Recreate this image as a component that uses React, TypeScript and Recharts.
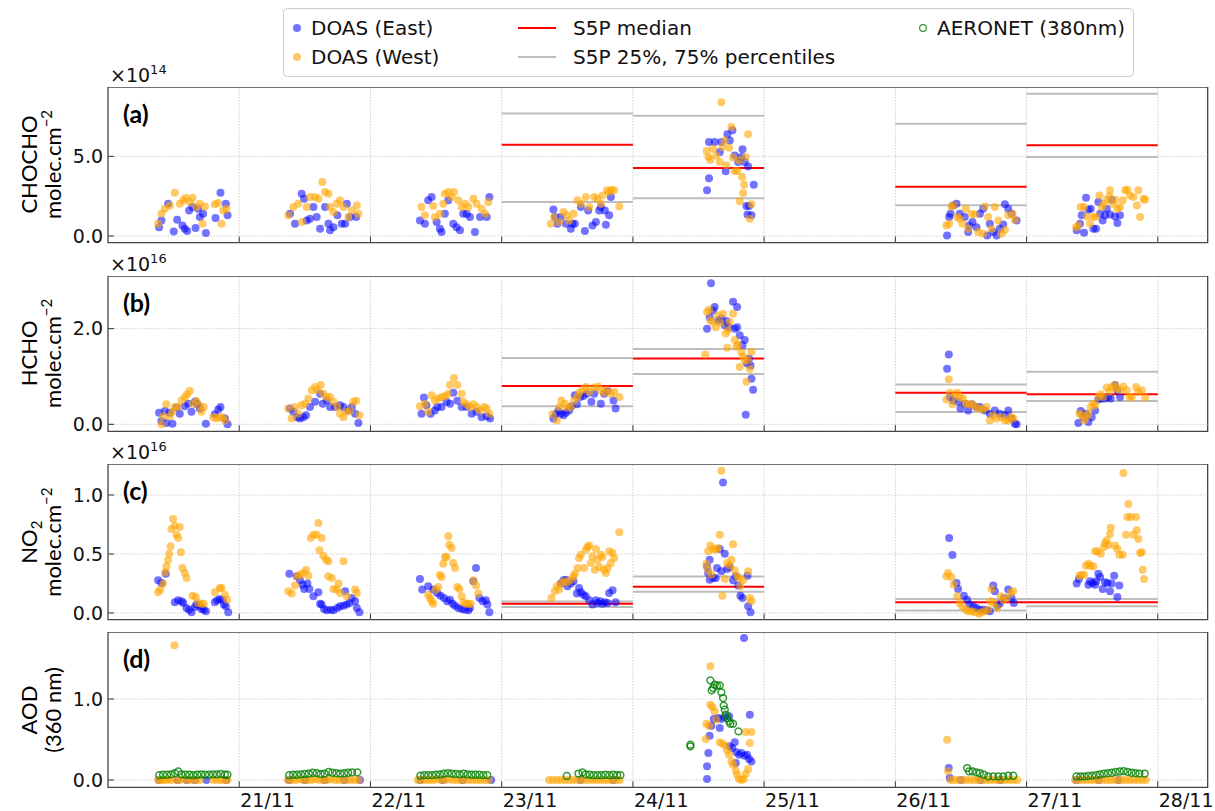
import { ComposedChart, Scatter, XAxis, YAxis, ReferenceLine, ReferenceArea } from 'recharts';

type Pt = [number, number];

const dayTicks = [21, 22, 23, 24, 25, 26, 27, 28];
const dayLabels = ['21/11', '22/11', '23/11', '24/11', '25/11', '26/11', '27/11', '28/11'];
const xDomain: [number, number] = [20, 28.38];

// S5P daily statistics (23/11, 24/11, 26/11, 27/11)
const s5pDays = [23, 24, 26, 27];
const chochoMedian = [5.73, 4.27, 3.1, 5.69];
const chochoP25 = [2.13, 2.37, 1.93, 4.96];
const chochoP75 = [7.68, 7.55, 7.05, 8.93];
const hchoMedian = [0.8, 1.373, 0.66, 0.627];
const hchoP25 = [0.376, 1.05, 0.257, 0.487];
const hchoP75 = [1.386, 1.574, 0.83, 1.1];
const no2Median = [0.079, 0.223, 0.09, 0.09];
const no2P25 = [0.051, 0.18, 0.02, 0.056];
const no2P75 = [0.098, 0.31, 0.119, 0.119];

// CHOCHO (x1e14)
const chochoEast: Pt[] = [
  [20.389, 0.56], [20.407, 0.98], [20.458, 2.03], [20.501, 0.29], [20.527, 1.03], [20.567, 0.67], [20.585, 0.46], [20.603, 0.31], [20.618, 1.61], [20.644, 1.82], [20.667, 0.5], [20.687, 1.72], [20.7, 1.19], [20.725, 1.4], [20.746, 0.19], [20.819, 1.13], [20.857, 2.72], [20.898, 2.03], [20.911, 1.3],
  [21.387, 1.4], [21.425, 0.77], [21.476, 2.66], [21.494, 2.34], [21.514, 0.98], [21.539, 1.09], [21.565, 1.82], [21.59, 1.19], [21.616, 0.46], [21.654, 1.82], [21.68, 0.77], [21.692, 0.36], [21.718, 0.56], [21.748, 1.3], [21.781, 0.77], [21.807, 0.77], [21.82, 2.03], [21.845, 1.19], [21.891, 1.19],
  [22.377, 0.98], [22.415, 0.77], [22.44, 2.24], [22.466, 2.45], [22.504, 0.88], [22.529, 0.46], [22.542, 0.25], [22.567, 1.4], [22.593, 2.24], [22.631, 0.77], [22.656, 0.56], [22.682, 0.36], [22.707, 1.4], [22.733, 1.4], [22.758, 1.19], [22.796, 0.25], [22.835, 1.19], [22.886, 1.19], [22.906, 2.45],
  [23.394, 1.67], [23.407, 1.19], [23.425, 0.77], [23.45, 1.19], [23.489, 0.77], [23.527, 0.46], [23.539, 0.77], [23.557, 0.77], [23.603, 1.82], [23.634, 0.31], [23.659, 1.61], [23.692, 0.67], [23.718, 0.88], [23.743, 1.61], [23.756, 1.82], [23.786, 1.61], [23.794, 0.71], [23.819, 1.3], [23.832, 2.45],
  [24.565, 2.87], [24.58, 3.62], [24.58, 5.9], [24.623, 5.9], [24.662, 5.27], [24.674, 5.9], [24.72, 6.38], [24.738, 6.0], [24.758, 6.63], [24.707, 4.06], [24.776, 5.06], [24.802, 4.64], [24.827, 4.96], [24.835, 5.44], [24.852, 4.64], [24.878, 4.37], [24.865, 1.88], [24.885, 1.88], [24.873, 1.36], [24.903, 1.3], [24.921, 3.22],
  [26.394, 0.04], [26.41, 1.19], [26.42, 1.4], [26.44, 1.92], [26.466, 2.03], [26.491, 1.4], [26.529, 1.19], [26.555, 0.25], [26.562, 0.67], [26.588, 0.88], [26.618, 0.56], [26.644, 1.4], [26.669, 1.72], [26.7, 0.04], [26.72, 0.77], [26.746, 0.25], [26.771, 0.04], [26.796, 0.46], [26.822, 0.73], [26.835, 1.99], [26.86, 1.72], [26.885, 1.4], [26.924, 0.98],
  [27.382, 0.36], [27.407, 0.77], [27.42, 1.3], [27.438, 0.21], [27.453, 2.41], [27.471, 1.65], [27.489, 1.72], [27.509, 0.46], [27.529, 0.46], [27.547, 2.13], [27.56, 1.4], [27.58, 0.98], [27.598, 1.3], [27.611, 1.72], [27.636, 1.36], [27.649, 2.28], [27.674, 1.23], [27.692, 0.82], [27.712, 1.3],
];
const chochoWest: Pt[] = [
  [20.382, 0.77], [20.407, 1.4], [20.433, 1.72], [20.471, 1.92], [20.509, 2.72], [20.547, 2.03], [20.573, 2.24], [20.593, 2.41], [20.623, 2.13], [20.644, 2.41], [20.674, 1.82], [20.7, 2.03], [20.72, 0.77], [20.738, 1.86], [20.814, 1.99], [20.84, 2.07], [20.865, 0.77], [20.878, 1.61], [20.903, 1.72],
  [21.374, 1.3], [21.412, 1.82], [21.45, 2.03], [21.476, 0.88], [21.514, 1.82], [21.539, 2.45], [21.578, 2.45], [21.603, 2.34], [21.634, 3.39], [21.654, 2.76], [21.68, 2.66], [21.692, 1.82], [21.718, 1.51], [21.743, 2.03], [21.768, 2.24], [21.794, 1.82], [21.832, 1.19], [21.858, 1.61], [21.896, 1.92], [21.908, 1.4],
  [22.389, 1.82], [22.415, 1.3], [22.478, 1.88], [22.491, 1.19], [22.529, 1.4], [22.555, 2.03], [22.567, 2.66], [22.593, 2.76], [22.618, 2.45], [22.636, 2.76], [22.669, 2.24], [22.695, 1.82], [22.72, 2.03], [22.746, 1.82], [22.784, 2.34], [22.809, 2.03], [22.847, 1.72], [22.873, 1.4], [22.898, 2.13],
  [23.374, 0.77], [23.4, 1.19], [23.438, 0.88], [23.471, 1.51], [23.496, 1.3], [23.514, 0.98], [23.547, 1.4], [23.578, 2.24], [23.603, 2.03], [23.641, 2.45], [23.667, 1.82], [23.705, 2.45], [23.73, 2.34], [23.756, 2.03], [23.768, 2.55], [23.802, 2.87], [23.819, 2.76], [23.837, 2.91], [23.857, 2.87], [23.896, 1.86],
  [24.674, 8.39], [24.562, 5.33], [24.575, 4.96], [24.59, 4.79], [24.61, 5.48], [24.636, 5.06], [24.662, 4.64], [24.682, 5.59], [24.7, 6.0], [24.712, 4.44], [24.733, 5.54], [24.751, 6.84], [24.763, 4.92], [24.776, 4.08], [24.794, 4.08], [24.809, 4.75], [24.832, 3.7], [24.847, 3.22], [24.84, 2.7], [24.86, 4.96], [24.878, 6.38], [24.814, 2.18], [24.891, 1.09], [24.903, 1.99],
  [26.389, 0.67], [26.41, 0.77], [26.427, 1.86], [26.445, 1.92], [26.47, 1.19], [26.491, 1.09], [26.511, 0.77], [26.537, 1.72], [26.555, 0.46], [26.58, 1.4], [26.606, 1.36], [26.631, 0.25], [26.669, 0.15], [26.682, 1.86], [26.707, 1.19], [26.733, 0.46], [26.758, 1.82], [26.784, 0.98], [26.809, 0.15], [26.835, 0.4], [26.86, 1.3], [26.893, 1.4], [26.911, 1.03],
  [27.377, 0.56], [27.394, 0.67], [27.412, 1.82], [27.438, 1.82], [27.458, 1.23], [27.483, 0.77], [27.509, 1.19], [27.529, 1.23], [27.555, 2.55], [27.573, 1.82], [27.59, 2.03], [27.611, 2.28], [27.631, 2.49], [27.636, 2.87], [27.656, 2.03], [27.674, 2.28], [27.692, 1.72], [27.712, 1.82], [27.733, 2.24], [27.751, 2.87], [27.768, 2.91], [27.789, 2.55], [27.814, 2.45], [27.84, 1.92], [27.852, 2.87], [27.865, 1.19], [27.891, 2.34], [27.903, 2.28],
];

// HCHO (x1e16)
const hchoEast: Pt[] = [
  [20.389, 0.24], [20.407, 0.07], [20.433, 0.28], [20.445, 0.03], [20.471, 0.24], [20.491, 0.01], [20.522, 0.35], [20.547, 0.22], [20.585, 0.38], [20.611, 0.43], [20.636, 0.26], [20.662, 0.47], [20.679, 0.42], [20.7, 0.33], [20.746, 0.01], [20.814, 0.21], [20.84, 0.31], [20.857, 0.36], [20.891, 0.12], [20.911, 0.0],
  [21.387, 0.33], [21.412, 0.26], [21.443, 0.15], [21.463, 0.12], [21.489, 0.15], [21.509, 0.19], [21.539, 0.36], [21.578, 0.47], [21.616, 0.64], [21.636, 0.43], [21.667, 0.5], [21.692, 0.36], [21.73, 0.36], [21.768, 0.4], [21.794, 0.36], [21.832, 0.29], [21.858, 0.36], [21.883, 0.22], [21.908, 0.03],
  [22.389, 0.22], [22.407, 0.56], [22.427, 0.4], [22.458, 0.22], [22.491, 0.29], [22.509, 0.36], [22.542, 0.36], [22.58, 0.47], [22.606, 0.43], [22.631, 0.66], [22.662, 0.49], [22.695, 0.36], [22.733, 0.36], [22.771, 0.22], [22.809, 0.26], [22.847, 0.15], [22.886, 0.17], [22.911, 0.12],
  [23.394, 0.12], [23.412, 0.21], [23.43, 0.28], [23.45, 0.22], [23.471, 0.19], [23.489, 0.24], [23.514, 0.29], [23.532, 0.38], [23.557, 0.61], [23.573, 0.42], [23.598, 0.57], [23.623, 0.59], [23.649, 0.64], [23.684, 0.47], [23.705, 0.64], [23.756, 0.43], [23.781, 0.64], [23.807, 0.7], [23.852, 0.5], [23.868, 0.33],
  [24.595, 2.95], [24.565, 2.0], [24.585, 2.24], [24.611, 2.38], [24.623, 2.45], [24.649, 2.17], [24.674, 2.21], [24.7, 2.07], [24.712, 2.16], [24.733, 2.03], [24.763, 2.56], [24.776, 2.0], [24.794, 2.45], [24.794, 2.03], [24.814, 1.86], [24.835, 1.65], [24.852, 1.76], [24.87, 1.27], [24.885, 1.37], [24.896, 1.23], [24.903, 0.95], [24.916, 0.72], [24.86, 0.2],
  [26.407, 1.46], [26.394, 1.16], [26.415, 0.57], [26.44, 0.5], [26.478, 0.47], [26.496, 0.33], [26.529, 0.43], [26.555, 0.29], [26.58, 0.42], [26.618, 0.36], [26.644, 0.36], [26.682, 0.29], [26.72, 0.22], [26.758, 0.29], [26.796, 0.22], [26.835, 0.19], [26.86, 0.29], [26.885, 0.12], [26.911, 0.01], [26.924, 0.0],
  [27.394, 0.03], [27.412, 0.28], [27.433, 0.15], [27.453, 0.22], [27.471, 0.05], [27.496, 0.15], [27.522, 0.29], [27.547, 0.52], [27.573, 0.54], [27.598, 0.54], [27.623, 0.57], [27.641, 0.54], [27.674, 0.82], [27.692, 0.71], [27.712, 0.57],
];
const hchoWest: Pt[] = [
  [20.407, 0.0], [20.42, 0.17], [20.445, 0.42], [20.471, 0.17], [20.491, 0.26], [20.509, 0.36], [20.534, 0.36], [20.56, 0.5], [20.585, 0.57], [20.603, 0.63], [20.623, 0.7], [20.649, 0.43], [20.674, 0.49], [20.695, 0.4], [20.712, 0.26], [20.73, 0.36], [20.801, 0.15], [20.827, 0.12], [20.852, 0.15], [20.873, 0.15], [20.891, 0.08],
  [21.374, 0.33], [21.399, 0.12], [21.425, 0.36], [21.45, 0.22], [21.476, 0.4], [21.501, 0.43], [21.527, 0.54], [21.552, 0.71], [21.578, 0.78], [21.595, 0.71], [21.621, 0.82], [21.641, 0.64], [21.667, 0.57], [21.692, 0.57], [21.718, 0.47], [21.748, 0.36], [21.768, 0.22], [21.794, 0.15], [21.819, 0.26], [21.845, 0.29], [21.87, 0.47], [21.891, 0.49], [21.916, 0.19],
  [22.377, 0.38], [22.415, 0.43], [22.44, 0.26], [22.466, 0.61], [22.491, 0.5], [22.517, 0.54], [22.542, 0.57], [22.567, 0.59], [22.593, 0.64], [22.606, 0.82], [22.636, 0.97], [22.662, 0.82], [22.695, 0.64], [22.707, 0.47], [22.733, 0.42], [22.758, 0.36], [22.784, 0.42], [22.809, 0.36], [22.835, 0.29], [22.865, 0.36], [22.886, 0.33], [22.906, 0.22],
  [23.387, 0.21], [23.42, 0.08], [23.438, 0.36], [23.455, 0.5], [23.481, 0.43], [23.501, 0.35], [23.527, 0.36], [23.552, 0.5], [23.578, 0.57], [23.59, 0.66], [23.616, 0.72], [23.641, 0.78], [23.667, 0.68], [23.7, 0.77], [23.735, 0.79], [23.756, 0.71], [23.781, 0.66], [23.802, 0.72], [23.832, 0.64], [23.858, 0.68], [23.896, 0.57],
  [24.552, 1.46], [24.565, 2.35], [24.58, 2.4], [24.59, 2.17], [24.611, 2.14], [24.631, 2.03], [24.649, 2.28], [24.667, 2.12], [24.687, 2.31], [24.707, 1.9], [24.725, 1.97], [24.738, 2.14], [24.763, 2.31], [24.776, 1.76], [24.789, 1.62], [24.802, 1.67], [24.814, 1.2], [24.827, 1.51], [24.84, 1.41], [24.852, 1.34], [24.865, 0.89], [24.878, 1.34], [24.891, 1.16], [24.903, 1.51], [24.718, 1.6],
  [26.407, 0.94], [26.389, 0.52], [26.415, 0.66], [26.435, 0.42], [26.453, 0.57], [26.471, 0.66], [26.491, 0.57], [26.517, 0.54], [26.537, 0.43], [26.562, 0.42], [26.588, 0.42], [26.613, 0.36], [26.639, 0.33], [26.669, 0.31], [26.695, 0.36], [26.72, 0.08], [26.746, 0.19], [26.771, 0.12], [26.809, 0.15], [26.835, 0.08], [26.86, 0.08], [26.885, 0.15], [26.898, 0.12],
  [27.402, 0.22], [27.42, 0.19], [27.438, 0.08], [27.458, 0.15], [27.471, 0.22], [27.489, 0.36], [27.509, 0.43], [27.522, 0.4], [27.547, 0.57], [27.565, 0.63], [27.585, 0.57], [27.611, 0.77], [27.631, 0.68], [27.649, 0.78], [27.674, 0.82], [27.687, 0.75], [27.712, 0.71], [27.738, 0.79], [27.763, 0.71], [27.784, 0.57], [27.802, 0.57], [27.835, 0.78], [27.852, 0.68], [27.878, 0.71], [27.903, 0.56],
];

// NO2 (x1e16)
const no2East: Pt[] = [
  [20.382, 0.277], [20.407, 0.254], [20.44, 0.333], [20.509, 0.09], [20.534, 0.107], [20.56, 0.099], [20.573, 0.085], [20.598, 0.042], [20.618, 0.028], [20.636, 0.006], [20.662, 0.051], [20.674, 0.071], [20.7, 0.056], [20.712, 0.034], [20.73, 0.028], [20.746, 0.014], [20.814, 0.09], [20.832, 0.107], [20.852, 0.119], [20.873, 0.113], [20.883, 0.071], [20.898, 0.056], [20.916, 0.006],
  [21.382, 0.333], [21.438, 0.311], [21.463, 0.277], [21.483, 0.24], [21.494, 0.203], [21.519, 0.249], [21.534, 0.203], [21.565, 0.141], [21.603, 0.175], [21.616, 0.079], [21.628, 0.071], [21.646, 0.034], [21.667, 0.023], [21.697, 0.028], [21.718, 0.023], [21.748, 0.042], [21.768, 0.056], [21.794, 0.062], [21.807, 0.184], [21.819, 0.071], [21.84, 0.085], [21.858, 0.127], [21.883, 0.099], [21.896, 0.042], [21.916, 0.006],
  [22.377, 0.288], [22.394, 0.198], [22.44, 0.226], [22.478, 0.198], [22.509, 0.169], [22.534, 0.147], [22.56, 0.127], [22.585, 0.099], [22.606, 0.113], [22.626, 0.079], [22.644, 0.062], [22.669, 0.042], [22.695, 0.034], [22.72, 0.028], [22.746, 0.023], [22.758, 0.042], [22.784, 0.268], [22.804, 0.381], [22.83, 0.127], [22.855, 0.099], [22.88, 0.107], [22.891, 0.071], [22.906, 0.006],
  [23.45, 0.249], [23.471, 0.277], [23.489, 0.282], [23.501, 0.226], [23.527, 0.249], [23.547, 0.268], [23.573, 0.164], [23.59, 0.212], [23.603, 0.175], [23.623, 0.155], [23.641, 0.141], [23.667, 0.107], [23.692, 0.071], [23.718, 0.107], [23.73, 0.085], [23.751, 0.099], [23.768, 0.079], [23.786, 0.09], [23.807, 0.085], [23.819, 0.169], [23.845, 0.192], [23.868, 0.09],
  [24.687, 1.107], [24.662, 0.542], [24.7, 0.503], [24.585, 0.452], [24.565, 0.395], [24.573, 0.339], [24.585, 0.282], [24.611, 0.297], [24.631, 0.297], [24.641, 0.381], [24.674, 0.353], [24.718, 0.373], [24.738, 0.39], [24.763, 0.277], [24.784, 0.311], [24.802, 0.232], [24.819, 0.147], [24.835, 0.127], [24.873, 0.316], [24.878, 0.056], [24.896, 0.006],
  [26.41, 0.636], [26.435, 0.492], [26.466, 0.254], [26.478, 0.203], [26.522, 0.147], [26.547, 0.113], [26.567, 0.071], [26.593, 0.056], [26.618, 0.042], [26.644, 0.028], [26.669, 0.028], [26.695, 0.023], [26.72, 0.014], [26.746, 0.232], [26.758, 0.184], [26.776, 0.062], [26.796, 0.079], [26.827, 0.127], [26.86, 0.198], [26.885, 0.127], [26.903, 0.085],
  [27.382, 0.249], [27.399, 0.288], [27.471, 0.24], [27.483, 0.268], [27.504, 0.254], [27.522, 0.24], [27.529, 0.268], [27.547, 0.333], [27.56, 0.305], [27.58, 0.203], [27.598, 0.26], [27.616, 0.254], [27.636, 0.184], [27.649, 0.249], [27.667, 0.316], [27.692, 0.136], [27.707, 0.232],
];
const no2West: Pt[] = [
  [20.382, 0.175], [20.399, 0.2], [20.42, 0.25], [20.435, 0.345], [20.445, 0.395], [20.458, 0.446], [20.466, 0.503], [20.476, 0.565], [20.483, 0.712], [20.496, 0.797], [20.509, 0.74], [20.522, 0.664], [20.534, 0.636], [20.547, 0.729], [20.555, 0.514], [20.567, 0.381], [20.585, 0.339], [20.598, 0.297], [20.644, 0.147], [20.669, 0.136], [20.687, 0.085], [20.712, 0.079], [20.73, 0.079], [20.814, 0.175], [20.852, 0.212], [20.865, 0.212], [20.891, 0.155], [20.908, 0.113],
  [21.374, 0.184], [21.399, 0.164], [21.425, 0.232], [21.443, 0.311], [21.463, 0.325], [21.489, 0.339], [21.509, 0.367], [21.527, 0.316], [21.545, 0.636], [21.565, 0.664], [21.59, 0.664], [21.603, 0.763], [21.611, 0.531], [21.628, 0.636], [21.641, 0.486], [21.662, 0.452], [21.679, 0.438], [21.679, 0.311], [21.705, 0.297], [21.718, 0.203], [21.743, 0.198], [21.756, 0.249], [21.768, 0.169], [21.794, 0.438], [21.819, 0.141], [21.883, 0.198], [21.896, 0.169],
  [22.44, 0.155], [22.453, 0.127], [22.466, 0.099], [22.478, 0.079], [22.499, 0.198], [22.517, 0.22], [22.529, 0.322], [22.542, 0.305], [22.555, 0.418], [22.567, 0.475], [22.58, 0.475], [22.593, 0.65], [22.601, 0.579], [22.618, 0.551], [22.631, 0.424], [22.644, 0.381], [22.662, 0.22], [22.677, 0.203], [22.695, 0.141], [22.707, 0.09], [22.728, 0.079], [22.746, 0.079], [22.763, 0.079], [22.784, 0.277], [22.804, 0.232], [22.822, 0.164],
  [23.379, 0.127], [23.405, 0.184], [23.42, 0.226], [23.438, 0.198], [23.455, 0.254], [23.476, 0.268], [23.501, 0.26], [23.527, 0.282], [23.547, 0.311], [23.557, 0.333], [23.578, 0.381], [23.59, 0.466], [23.603, 0.494], [23.628, 0.381], [23.641, 0.537], [23.654, 0.559], [23.667, 0.571], [23.679, 0.424], [23.692, 0.48], [23.71, 0.367], [23.718, 0.542], [23.73, 0.452], [23.743, 0.39], [23.756, 0.494], [23.768, 0.475], [23.781, 0.367], [23.794, 0.339], [23.807, 0.381], [23.819, 0.523], [23.832, 0.424], [23.845, 0.508], [23.858, 0.466], [23.896, 0.684],
  [24.674, 1.206], [24.662, 0.664], [24.763, 0.582], [24.56, 0.418], [24.573, 0.523], [24.59, 0.571], [24.611, 0.542], [24.631, 0.537], [24.649, 0.551], [24.573, 0.367], [24.598, 0.325], [24.682, 0.147], [24.7, 0.288], [24.718, 0.424], [24.738, 0.401], [24.751, 0.452], [24.776, 0.362], [24.794, 0.311], [24.809, 0.297], [24.819, 0.226], [24.84, 0.277], [24.878, 0.353], [24.891, 0.127], [24.903, 0.099],
  [26.389, 0.311], [26.402, 0.339], [26.427, 0.305], [26.445, 0.24], [26.471, 0.141], [26.491, 0.085], [26.511, 0.056], [26.537, 0.028], [26.555, 0.014], [26.58, 0.014], [26.606, 0.006], [26.639, -0.006], [26.656, 0.006], [26.682, 0.014], [26.707, 0.028], [26.725, 0.099], [26.733, 0.203], [26.751, 0.085], [26.776, 0.042], [26.802, 0.141], [26.822, 0.113], [26.847, 0.127], [26.878, 0.169], [26.898, 0.184],
  [27.402, 0.316], [27.42, 0.325], [27.438, 0.325], [27.453, 0.401], [27.471, 0.418], [27.489, 0.401], [27.509, 0.395], [27.522, 0.523], [27.54, 0.523], [27.565, 0.503], [27.59, 0.559], [27.598, 0.593], [27.611, 0.616], [27.623, 0.576], [27.636, 0.669], [27.641, 0.723], [27.674, 0.571], [27.692, 0.542], [27.707, 0.494], [27.733, 0.494], [27.738, 1.186], [27.758, 0.664], [27.776, 0.924], [27.768, 0.814], [27.794, 0.814], [27.814, 0.664], [27.835, 0.814], [27.84, 0.701], [27.852, 0.627], [27.865, 0.508], [27.878, 0.514], [27.885, 0.367], [27.896, 0.288],
];

// AOD 360 nm
const aodEast: Pt[] = [
  [20.39, 0.0], [20.53, 0.0], [20.6, 0.0], [20.66, 0.0], [20.75, 0.0], [20.9, 0.0],
  [21.38, 0.0], [21.5, 0.0], [21.65, 0.0], [21.8, 0.0], [21.92, 0.0],
  [22.38, 0.0], [22.55, 0.0], [22.7, 0.0], [22.92, 0.0],
  [23.6, 0.0], [23.85, 0.0],
  [24.847, 1.753], [24.891, 0.807], [24.565, 0.012], [24.565, 0.169], [24.575, 0.333], [24.585, 0.547], [24.598, 0.671], [24.616, 0.753], [24.649, 0.765], [24.662, 0.642], [24.674, 0.753], [24.7, 0.778], [24.733, 0.786], [24.738, 0.416], [24.758, 0.395], [24.776, 0.465], [24.789, 0.342], [24.809, 0.313], [24.827, 0.333], [24.852, 0.3], [24.87, 0.313], [24.885, 0.259], [24.903, 0.23], [24.784, 0.21],
  [26.407, 0.148], [26.415, 0.025], [26.5, 0.0], [26.65, 0.0], [26.8, 0.0],
  [27.38, 0.0], [27.55, 0.0], [27.7, 0.0],
];
const aodWest: Pt[] = [
  [20.382, 0.0], [20.4, 0.0], [20.42, 0.0], [20.44, 0.0], [20.46, 0.01], [20.48, 0.0], [20.506, 1.663], [20.52, 0.0], [20.55, 0.0], [20.58, 0.01], [20.61, 0.0], [20.64, 0.0], [20.67, 0.0], [20.7, 0.0], [20.8, 0.0], [20.83, 0.0], [20.86, 0.0], [20.89, 0.0], [20.91, 0.0],
  [21.37, 0.0], [21.4, 0.0], [21.43, 0.0], [21.46, 0.01], [21.49, 0.0], [21.52, 0.0], [21.55, 0.0], [21.58, 0.01], [21.61, 0.0], [21.64, 0.0], [21.67, 0.0], [21.7, 0.01], [21.73, 0.0], [21.76, 0.0], [21.79, 0.0], [21.82, 0.0], [21.85, 0.0], [21.88, 0.0], [21.91, 0.0],
  [22.36, 0.0], [22.39, 0.0], [22.42, 0.0], [22.45, 0.0], [22.48, 0.0], [22.51, 0.01], [22.54, 0.0], [22.57, 0.0], [22.6, 0.01], [22.63, 0.0], [22.66, 0.0], [22.69, 0.0], [22.72, 0.0], [22.75, 0.0], [22.78, 0.0], [22.81, 0.0], [22.84, 0.0], [22.87, 0.0], [22.9, 0.0],
  [23.36, 0.0], [23.39, 0.0], [23.42, 0.0], [23.45, 0.0], [23.48, 0.0], [23.51, 0.0], [23.54, 0.0], [23.57, 0.0], [23.6, 0.0], [23.63, 0.0], [23.66, 0.0], [23.69, 0.0], [23.72, 0.0], [23.75, 0.0], [23.78, 0.0], [23.81, 0.0], [23.84, 0.0], [23.87, 0.0], [23.9, 0.0],
  [24.59, 1.403], [24.59, 0.93], [24.606, 0.901], [24.623, 0.848], [24.636, 0.745], [24.56, 0.695], [24.58, 0.671], [24.555, 0.506], [24.662, 0.465], [24.682, 0.449], [24.707, 0.424], [24.718, 0.366], [24.733, 0.313], [24.751, 0.23], [24.763, 0.189], [24.784, 0.119], [24.794, 0.066], [24.809, 0.012], [24.827, 0.0], [24.845, 0.012], [24.86, 0.078], [24.878, 0.136], [24.86, 0.593], [24.903, 0.593], [24.891, 0.457],
  [26.394, 0.498], [26.402, 0.107], [26.42, 0.0], [26.45, 0.0], [26.48, 0.0], [26.51, 0.0], [26.54, 0.0], [26.57, 0.0], [26.6, 0.0], [26.63, 0.0], [26.66, 0.0], [26.69, 0.0], [26.72, 0.0], [26.75, 0.0], [26.78, 0.0], [26.81, 0.0], [26.84, 0.0], [26.87, 0.0], [26.9, 0.0], [26.93, 0.0],
  [27.37, 0.0], [27.4, 0.0], [27.43, 0.0], [27.46, 0.0], [27.49, 0.0], [27.52, 0.0], [27.55, 0.0], [27.58, 0.0], [27.61, 0.0], [27.64, 0.0], [27.67, 0.0], [27.7, 0.0], [27.73, 0.0], [27.76, 0.0], [27.79, 0.0], [27.82, 0.0], [27.85, 0.0], [27.88, 0.0], [27.91, 0.0],
];
const aeronet: Pt[] = [
  [20.39, 0.06], [20.42, 0.065], [20.45, 0.065], [20.48, 0.07], [20.51, 0.085], [20.535, 0.105], [20.56, 0.07], [20.59, 0.065], [20.62, 0.065], [20.65, 0.06], [20.68, 0.065], [20.71, 0.07], [20.74, 0.065], [20.77, 0.065], [20.8, 0.07], [20.83, 0.07], [20.86, 0.075], [20.89, 0.065], [20.91, 0.065],
  [21.38, 0.06], [21.41, 0.065], [21.44, 0.065], [21.47, 0.07], [21.5, 0.075], [21.53, 0.08], [21.56, 0.09], [21.59, 0.085], [21.62, 0.075], [21.65, 0.08], [21.68, 0.1], [21.71, 0.09], [21.74, 0.085], [21.77, 0.08], [21.8, 0.085], [21.83, 0.09], [21.86, 0.095], [21.9, 0.095],
  [22.38, 0.055], [22.41, 0.06], [22.44, 0.06], [22.47, 0.06], [22.5, 0.065], [22.53, 0.07], [22.56, 0.08], [22.59, 0.085], [22.62, 0.08], [22.65, 0.075], [22.68, 0.07], [22.71, 0.08], [22.74, 0.07], [22.77, 0.065], [22.8, 0.065], [22.83, 0.065], [22.86, 0.06], [22.89, 0.06],
  [23.496, 0.05], [23.585, 0.08], [23.615, 0.095], [23.64, 0.07], [23.67, 0.065], [23.7, 0.06], [23.73, 0.06], [23.76, 0.06], [23.79, 0.065], [23.82, 0.06], [23.85, 0.065], [23.88, 0.06], [23.905, 0.06],
  [24.438, 0.436], [24.438, 0.416], [24.59, 1.23], [24.6, 1.107], [24.611, 1.136], [24.623, 1.177], [24.641, 1.165], [24.662, 1.169], [24.674, 1.082], [24.687, 1.012], [24.692, 0.918], [24.7, 0.868], [24.707, 0.807], [24.718, 0.765], [24.733, 0.724], [24.743, 0.695], [24.763, 0.695], [24.804, 0.601],
  [26.547, 0.148], [26.562, 0.107], [26.588, 0.107], [26.618, 0.095], [26.644, 0.086], [26.674, 0.066], [26.707, 0.045], [26.746, 0.045], [26.784, 0.045], [26.822, 0.045], [26.86, 0.053], [26.898, 0.053],
  [27.38, 0.045], [27.41, 0.045], [27.44, 0.045], [27.47, 0.05], [27.5, 0.055], [27.53, 0.06], [27.56, 0.07], [27.59, 0.08], [27.62, 0.085], [27.65, 0.09], [27.68, 0.1], [27.71, 0.105], [27.74, 0.11], [27.77, 0.1], [27.8, 0.09], [27.83, 0.085], [27.86, 0.08], [27.9, 0.08],
];

const FONT = '"DejaVu Sans", sans-serif';
const LABEL_FONT = 'Lato, "Noto Sans", sans-serif';
const BLUE = '#0000ff';
const ORANGE = '#ffa500';
const GREEN = '#008000';

interface PanelDef {
  letter: string;
  top: number;
  bottom: number;
  domain: [number, number];
  ticks: number[];
  east: Pt[];
  west: Pt[];
  aeronet?: Pt[];
  median?: number[];
  p25?: number[];
  p75?: number[];
  exponent?: string;
}

const panels: PanelDef[] = [
  { letter: '(a)', top: 86.7, bottom: 242.3, domain: [-0.41, 9.35], ticks: [0, 5], east: chochoEast, west: chochoWest, median: chochoMedian, p25: chochoP25, p75: chochoP75, exponent: '14' },
  { letter: '(b)', top: 275.7, bottom: 431, domain: [-0.146, 3.1], ticks: [0, 2], east: hchoEast, west: hchoWest, median: hchoMedian, p25: hchoP25, p75: hchoP75, exponent: '16' },
  { letter: '(c)', top: 464.3, bottom: 620, domain: [-0.057, 1.263], ticks: [0, 0.5, 1], east: no2East, west: no2West, median: no2Median, p25: no2P25, p75: no2P75, exponent: '16' },
  { letter: '(d)', top: 632.3, bottom: 787.7, domain: [-0.091, 1.827], ticks: [0, 1], east: aodEast, west: aodWest, aeronet: aeronet },
];

const toPts = (a: Pt[]) => a.map(([t, v]) => ({ t, v }));

const XTick = (props: any) => {
  const { x, y, payload, showLabel } = props;
  const i = dayTicks.indexOf(payload.value);
  return (
    <g>
      <line x1={x} x2={x} y1={y} y2={y - 6} stroke="#333" strokeWidth={1} />
      {showLabel && (
        <text x={x + 1} y={y + 20} fontSize={19} fontFamily={FONT} fill="#111">
          {dayLabels[i]}
        </text>
      )}
    </g>
  );
};

const YTick = (props: any) => {
  const { x, y, payload } = props;
  return (
    <g>
      <line x1={x} x2={x + 6} y1={y} y2={y} stroke="#333" strokeWidth={1} />
      <text x={x - 5} y={y} dy="0.36em" textAnchor="end" fontSize={19} fontFamily={FONT} fill="#111">
        {Number(payload.value).toFixed(1)}
      </text>
    </g>
  );
};

const blueDot = (p: any) => <circle cx={p.cx} cy={p.cy} r={4} fill={BLUE} fillOpacity={0.55} />;
const orangeDot = (p: any) => <circle cx={p.cx} cy={p.cy} r={4} fill={ORANGE} fillOpacity={0.6} />;
const greenRing = (p: any) => <circle cx={p.cx} cy={p.cy} r={3.4} fill="none" stroke={GREEN} strokeOpacity={0.8} strokeWidth={1.5} />;

const Panel = ({ p, last }: { p: PanelDef; last: boolean }) => {
  const h = p.bottom - p.top;
  return (
    <div style={{ position: 'absolute', left: 0, top: p.top }}>
      <ComposedChart width={1215} height={h + 30} margin={{ top: 0, right: 7.3, bottom: 0, left: 0 }}>
        <XAxis type="number" dataKey="t" domain={xDomain} ticks={dayTicks} interval={0} allowDataOverflow height={30}
          axisLine={false} tickLine={false} tickSize={0} tickMargin={0} tick={(tp: any) => <XTick {...tp} showLabel={last} />} />
        <YAxis type="number" dataKey="v" domain={p.domain} ticks={p.ticks} interval={0} allowDataOverflow width={108}
          axisLine={false} tickLine={false} tickSize={0} tickMargin={0} tick={(tp: any) => <YTick {...tp} />} />
        {dayTicks.map((d) => (
          <ReferenceLine key={'gx' + d} x={d} stroke="#c4c4c4" strokeWidth={0.8} strokeDasharray="1.5 1.5" />
        ))}
        {p.ticks.map((v) => (
          <ReferenceLine key={'gy' + v} y={v} stroke="#c4c4c4" strokeWidth={0.8} strokeDasharray="1.5 1.5" />
        ))}
        {p.p25 && s5pDays.map((d, i) => (
          <ReferenceLine key={'p25' + d} segment={[{ x: d, y: p.p25![i] }, { x: d + 1, y: p.p25![i] }]} stroke="#bdbdbd" strokeWidth={2} />
        ))}
        {p.p75 && s5pDays.map((d, i) => (
          <ReferenceLine key={'p75' + d} segment={[{ x: d, y: p.p75![i] }, { x: d + 1, y: p.p75![i] }]} stroke="#bdbdbd" strokeWidth={2} />
        ))}
        {p.median && s5pDays.map((d, i) => (
          <ReferenceLine key={'med' + d} segment={[{ x: d, y: p.median![i] }, { x: d + 1, y: p.median![i] }]} stroke="#ff0000" strokeWidth={2} />
        ))}
        <Scatter data={toPts(p.east)} shape={blueDot} isAnimationActive={false} />
        <Scatter data={toPts(p.west)} shape={orangeDot} isAnimationActive={false} />
        {p.aeronet && <Scatter data={toPts(p.aeronet)} shape={greenRing} isAnimationActive={false} />}
        <ReferenceArea x1={xDomain[0]} x2={xDomain[1]} y1={p.domain[0]} y2={p.domain[1]} fill="none" fillOpacity={0} stroke="#444" strokeWidth={1.3} />
      </ComposedChart>
    </div>
  );
};

const Overlay = () => {
  const sup = <tspan dy={-9} fontSize={15}>−2</tspan>;
  const yLabels = [
    { c: (panels[0].top + panels[0].bottom) / 2, l1: <>CHOCHO</>, l2: <>molec.cm{sup}</> },
    { c: (panels[1].top + panels[1].bottom) / 2, l1: <>HCHO</>, l2: <>molec.cm{sup}</> },
    { c: (panels[2].top + panels[2].bottom) / 2, l1: <>NO<tspan dy={5} fontSize={15}>2</tspan></>, l2: <>molec.cm{sup}</> },
    { c: (panels[3].top + panels[3].bottom) / 2, l1: <>AOD</>, l2: <>(360 nm)</> },
  ];
  const legendText = { fontSize: 20, fontFamily: FONT, fill: '#111' };
  return (
    <svg width={1215} height={811} style={{ position: 'absolute', left: 0, top: 0, pointerEvents: 'none' }}>
      {/* legend */}
      <rect x={283.5} y={8.5} width={850} height={68} rx={4} fill="#fff" fillOpacity={0.85} stroke="#cccccc" strokeWidth={1} />
      <circle cx={297} cy={28} r={4} fill={BLUE} fillOpacity={0.55} />
      <text x={311} y={28} dy="0.36em" {...legendText}>DOAS (East)</text>
      <circle cx={297} cy={57} r={4} fill={ORANGE} fillOpacity={0.6} />
      <text x={311} y={57} dy="0.36em" {...legendText}>DOAS (West)</text>
      <line x1={518} x2={556} y1={28} y2={28} stroke="#ff0000" strokeWidth={2} />
      <text x={573} y={28} dy="0.36em" {...legendText}>S5P median</text>
      <line x1={518} x2={556} y1={57} y2={57} stroke="#bdbdbd" strokeWidth={2} />
      <text x={573} y={57} dy="0.36em" {...legendText}>S5P 25%, 75% percentiles</text>
      <circle cx={923} cy={28} r={3.4} fill="none" stroke={GREEN} strokeOpacity={0.8} strokeWidth={1.2} />
      <text x={937} y={28} dy="0.36em" {...legendText}>AERONET (380nm)</text>

      {panels.map((p) => (
        <g key={p.letter}>
          <text x={123} y={p.top + 36} fontSize={25} fontWeight={700} fontFamily={LABEL_FONT} fill="#000">{p.letter}</text>
          {p.exponent && (
            <text x={110} y={p.top - 5} fontSize={19} fontFamily={FONT} fill="#111">
              ×10<tspan dy={-8} fontSize={13}>{p.exponent}</tspan>
            </text>
          )}
        </g>
      ))}
      {yLabels.map((yl, i) => (
        <g key={i}>
          <text transform={`translate(37,${yl.c}) rotate(-90)`} textAnchor="middle" fontSize={22} fontFamily={LABEL_FONT} fill="#000">{yl.l1}</text>
          <text transform={`translate(61,${yl.c}) rotate(-90)`} textAnchor="middle" fontSize={22} fontFamily={LABEL_FONT} fill="#000">{yl.l2}</text>
        </g>
      ))}
    </svg>
  );
};

export default function App() {
  return (
    <div style={{ position: 'absolute', left: 0, top: 0, width: 1215, height: 811, background: '#fff' }}>
      {panels.map((p, i) => (
        <Panel key={p.letter} p={p} last={i === panels.length - 1} />
      ))}
      <Overlay />
    </div>
  );
}
